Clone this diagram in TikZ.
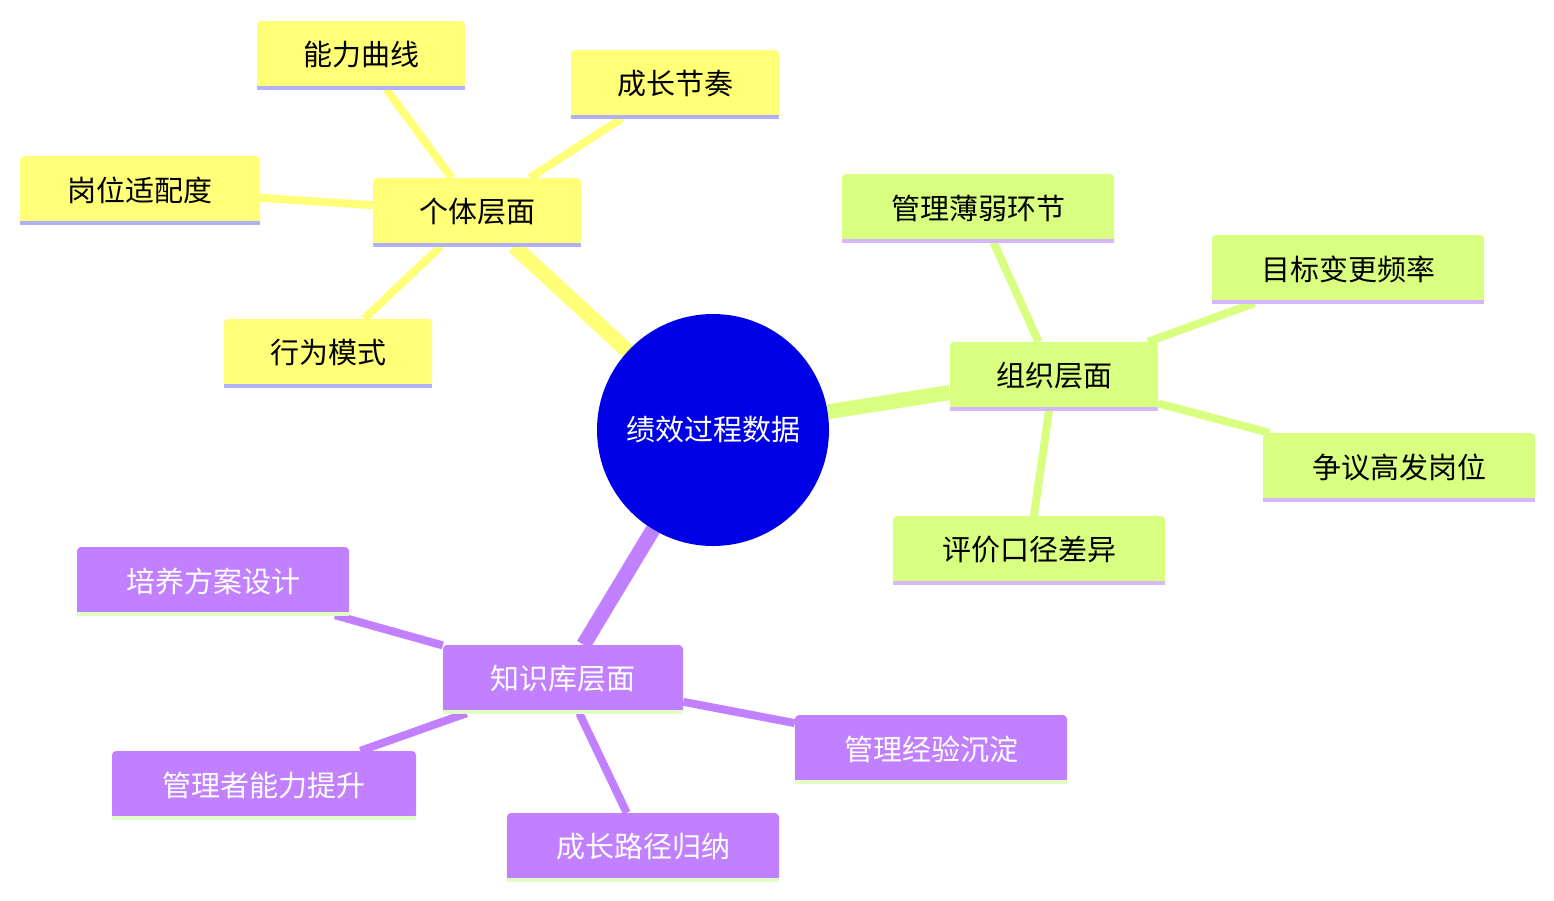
\documentclass[tikz,border=0pt]{standalone}
\usepackage{fontspec}
\setmainfont{Noto Sans CJK SC}
\usetikzlibrary{backgrounds}
\definecolor{yel}{HTML}{FFFF78}
\definecolor{yelb}{HTML}{B0B0FF}
\definecolor{grn}{HTML}{D9FF80}
\definecolor{grnb}{HTML}{D4B8FF}
\definecolor{pur}{HTML}{C080FF}
\definecolor{purb}{HTML}{E0FFC8}
\definecolor{rootc}{HTML}{0000E6}
\tikzset{
 box/.style={rectangle,rounded corners=4pt,inner sep=0pt,font=\fontsize{29}{32}\selectfont},
 ybox/.style={box,fill=yel,text=black},
 gbox/.style={box,fill=grn,text=black},
 pbox/.style={box,fill=pur,text=white},
}
\newcommand{\bnode}[7]{% name, style, border col, x, y, w, text
 \node[#2,minimum width=#6pt,minimum height=68pt] (#1) at (#4,#5) {#7};
 \draw[#3,line width=4pt] ([yshift=1pt]#1.south west) -- ([yshift=1pt]#1.south east);}
\begin{document}
\begin{tikzpicture}[x=1pt,y=-1pt]
\useasboundingbox (0,0) rectangle (1554,900);
\node[circle,fill=rootc,minimum size=232pt,text=white,font=\fontsize{29}{32}\selectfont] (root) at (713,430) {绩效过程数据};
\bnode{g1}{ybox}{yelb}{477}{212}{208}{个体层面}
\bnode{a1}{ybox}{yelb}{361}{55}{208}{能力曲线}
\bnode{a2}{ybox}{yelb}{675}{84}{208}{成长节奏}
\bnode{a3}{ybox}{yelb}{140}{190}{240}{岗位适配度}
\bnode{a4}{ybox}{yelb}{328}{353}{208}{行为模式}
\bnode{g2}{gbox}{grnb}{1054}{376}{208}{组织层面}
\bnode{b1}{gbox}{grnb}{978}{208}{272}{管理薄弱环节}
\bnode{b2}{gbox}{grnb}{1348}{269}{272}{目标变更频率}
\bnode{b3}{gbox}{grnb}{1399}{467}{272}{争议高发岗位}
\bnode{b4}{gbox}{grnb}{1029}{550}{272}{评价口径差异}
\bnode{g3}{pbox}{purb}{563}{679}{240}{知识库层面}
\bnode{c1}{pbox}{purb}{213}{581}{272}{培养方案设计}
\bnode{c2}{pbox}{purb}{264}{785}{304}{管理者能力提升}
\bnode{c3}{pbox}{purb}{643}{847}{272}{成长路径归纳}
\bnode{c4}{pbox}{purb}{931}{749}{272}{管理经验沉淀}
\begin{scope}[on background layer,line cap=round]
\draw[yel,line width=15pt] (root) -- (g1);
\draw[grn,line width=15pt] (root) -- (g2);
\draw[pur,line width=15pt] (root) -- (g3);
\foreach \n in {a1,a2,a3,a4}{\draw[yel,line width=8pt] (g1) -- (\n);}
\foreach \n in {b1,b2,b3,b4}{\draw[grn,line width=8pt] (g2) -- (\n);}
\foreach \n in {c1,c2,c3,c4}{\draw[pur,line width=8pt] (g3) -- (\n);}
\end{scope}
\end{tikzpicture}
\end{document}
